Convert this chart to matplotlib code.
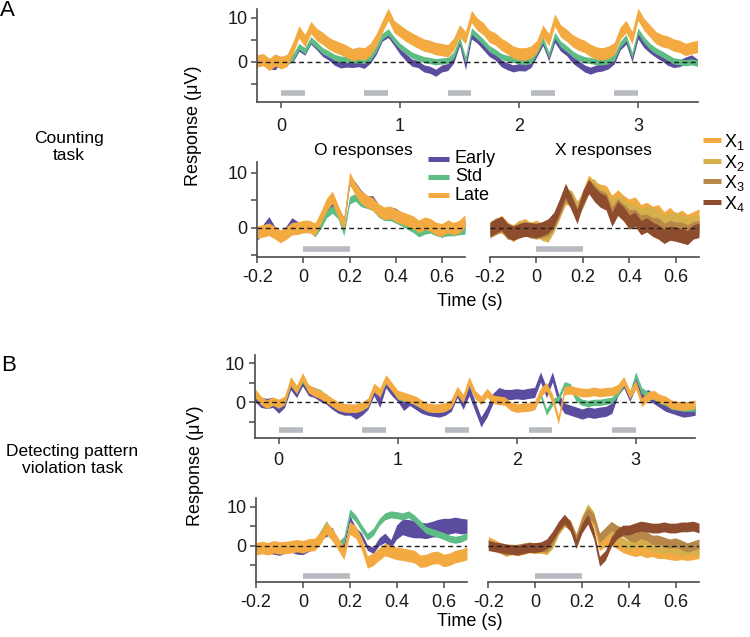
import numpy as np
import matplotlib
matplotlib.use('Agg')
import matplotlib.pyplot as plt
from matplotlib.lines import Line2D

plt.rcParams['font.family'] = ['Liberation Sans', 'DejaVu Sans']
plt.rcParams['mathtext.default'] = 'regular'
plt.rcParams['axes.unicode_minus'] = False

# ---------------- data ----------------
t_long = np.round(np.arange(-0.2, 3.5001, 0.05), 3)     # 75 samples
t_short = np.round(np.arange(-0.2, 0.7001, 0.025), 3)   # 37 samples

stim_onsets = [0.0, 0.7, 1.4, 2.1, 2.8]
stim_dur = 0.2

cond_labels = ['Early', 'Std', 'Late']
x_labels = ['X$_1$', 'X$_2$', 'X$_3$', 'X$_4$']
cond_colors = ['#5b4c9f', '#5dbd85', '#f3aa40']
x_colors = ['#f3aa40', '#d6b04a', '#b8874a', '#8e4c2e']

long_ticks = [0, 1, 2, 3]
short_ticks = [-0.2, 0, 0.2, 0.4, 0.6]
short_ticklabels = ['-0.2', '0', '0.2', '0.4', '0.6']

# A: counting task, whole sequence
a_early = [0.0, 0.4, -0.8, -1.0, 0.5, 0.2, 0.8, 3.2, 2.3, 4.8,
           3.5, 2.0, 1.2, 0.0, -0.6, -0.4, -0.5, -0.3, -0.7, 0.5,
           2.5, 5.5, 6.3, 4.5, 2.5, 1.0, -0.2, -0.5, -1.5, -1.8,
           -2.5, -1.5, -1.2, 0.5, 4.5, -1.0, 6.0, 5.0, 3.5, 2.0,
           1.2, -0.3, -1.0, -1.5, -1.2, -1.3, -0.5, 2.0, 4.5, 1.0,
           5.2, 3.2, 2.2, 0.5, -0.5, -1.5, -2.0, -1.5, -1.3, -0.8,
           0.3, 3.5, 4.8, 0.8, 6.0, 4.0, 2.8, 1.8, 1.0, 0.0,
           -0.5, -0.3, 0.3, 0.8, -0.2]
a_std = [0.2, 0.3, -0.5, 0.3, 0.2, 0.0, 1.0, 3.5, 2.5, 5.0,
         3.8, 2.5, 1.8, 1.0, 0.6, 0.5, 0.5, 0.4, 0.3, 1.0,
         3.0, 5.8, 6.8, 5.0, 3.5, 2.5, 1.5, 1.0, 0.5, 0.3,
         0.0, 0.2, 0.3, 1.5, 5.0, 0.5, 7.0, 5.8, 4.5, 3.0,
         2.2, 1.2, 0.8, 0.5, 0.3, 0.0, 0.3, 2.5, 5.0, 1.5,
         6.0, 4.0, 3.0, 1.8, 1.0, 0.5, 0.3, 0.0, 0.0, 0.2,
         1.0, 4.0, 5.5, 1.5, 7.0, 5.0, 3.5, 2.5, 1.8, 1.0,
         0.2, 0.0, -0.2, 0.0, -0.3]
a_late = [0.2, 0.5, -0.6, 0.4, -0.2, 0.3, 3.2, 6.8, 4.8, 7.8,
          6.2, 5.3, 4.2, 3.5, 3.0, 2.4, 1.6, 2.0, 1.8, 2.8,
          5.0, 8.0, 10.8, 8.0, 7.0, 6.0, 5.2, 4.5, 3.8, 3.5,
          3.0, 2.8, 2.5, 4.0, 7.0, 5.5, 10.3, 8.5, 7.5, 5.8,
          5.2, 4.0, 3.2, 2.2, 1.8, 1.8, 2.2, 3.5, 7.0, 5.0,
          9.5, 7.0, 6.0, 4.8, 4.0, 3.5, 2.6, 2.0, 1.8, 2.2,
          3.0, 6.5, 8.0, 5.5, 10.8, 8.5, 7.0, 5.5, 4.8, 4.5,
          3.8, 3.5, 2.8, 3.2, 3.5]
a_sem = [0.8, 0.7, 1.4]

# A: O responses
ao_early = [-1.5, -0.2, 1.2, -0.5, -1.5, -0.5, 1.0, 0.3, 0.2, 0.2,
            -0.2, 1.5, 3.5, 4.5, 3.0, 1.0, 8.5, 7.5, 6.0, 5.0,
            5.0, 3.5, 2.8, 3.0, 2.7, 2.0, 1.2, 0.5, 0.0, 0.5,
            0.3, -0.3, -1.0, 0.6, 0.0, 0.0, 0.5]
ao_std = [-1.0, -0.8, -0.4, -1.0, -1.5, -1.0, -0.3, -0.3, 0.0, 0.0,
          -1.0, 0.5, 2.5, 3.3, 2.3, -0.8, 5.0, 5.5, 4.5, 4.2,
          3.8, 2.6, 2.0, 2.0, 1.5, 1.0, 0.4, -0.2, -1.0, -0.5,
          -0.3, -0.8, -1.0, -0.8, -0.8, -0.6, -0.5]
ao_late = [-0.8, -0.6, -0.3, -0.9, -1.6, -1.0, -0.2, -0.1, 0.2, 0.2,
           -0.3, 1.8, 4.2, 5.5, 3.0, 0.6, 9.0, 7.0, 5.5, 4.8,
           4.3, 3.2, 2.6, 2.8, 2.2, 1.8, 1.4, 1.0, 0.2, 0.8,
           0.5, -0.2, -0.4, 0.2, -0.2, 0.2, 1.2]
ao_sem = [0.8, 0.7, 1.15]

# A: X responses
ax_x1 = [-0.5, 0.2, 0.8, -0.3, -1.2, -0.3, 0.3, -0.5, 0.0, -0.8,
         -1.0, 1.0, 3.5, 6.0, 5.0, 3.0, 5.5, 8.2, 7.0, 6.5,
         6.3, 4.5, 5.5, 4.5, 3.8, 4.2, 2.8, 3.2, 2.5, 2.8,
         1.5, 2.3, 1.2, 1.8, 1.0, 1.5, 2.0]
ax_x2 = [-0.3, 0.5, 0.3, -0.5, -0.8, 0.0, 0.0, -0.3, -0.3, -1.0,
         -1.3, 0.5, 3.0, 5.5, 5.5, 3.5, 5.0, 7.5, 7.5, 6.0,
         5.5, 4.0, 4.5, 4.0, 3.0, 3.0, 2.0, 2.5, 2.5, 1.8,
         0.8, 1.5, 1.5, 1.0, 0.5, 0.8, 0.8]
ax_x3 = [-0.5, 0.0, 0.5, -0.8, -1.0, -0.5, -0.2, -0.6, -0.8, -0.5,
         -0.3, 1.0, 3.5, 6.0, 5.0, 2.5, 5.0, 7.5, 6.5, 5.5,
         5.0, 2.5, 4.0, 3.0, 2.0, 2.0, 1.0, 1.2, 0.5, 0.5,
         -0.5, 0.0, -0.3, -0.3, -0.8, -0.2, 0.0]
ax_x4 = [-0.3, 0.3, 0.8, -0.5, -1.0, -0.6, -0.3, -0.4, -0.5, -0.2,
         0.3, 1.5, 4.0, 6.8, 4.5, 2.0, 5.5, 7.5, 6.0, 5.0,
         4.5, 1.5, 3.5, 2.5, 1.0, 1.5, 0.0, 0.5, -0.3, -0.8,
         -1.6, -1.0, -1.2, -1.5, -1.8, -0.8, -0.5]
ax_sem = [1.4, 1.35, 1.3, 1.3]

# B: detecting pattern violation task, whole sequence
b_early = [1.5, 0.0, -0.3, 0.0, -1.5, 0.0, 4.5, 2.5, 5.5, 3.0,
           2.5, 1.5, 0.8, -0.5, -1.5, -2.0, -2.0, -3.0, -2.0, -0.5,
           3.0, 0.0, 5.0, 3.0, 1.5, -0.8, 0.5, -0.5, -1.5, -2.0,
           -2.3, -2.5, -2.0, -1.0, 2.5, -0.5, 3.0, -1.0, -5.0, -2.5,
           1.0, 2.5, 2.0, 2.0, 2.2, 2.0, 2.3, 2.5, 6.5, 2.5,
           6.5, 1.0, -1.5, -2.0, -2.5, -3.0, -2.5, -2.8, -2.5, -2.3,
           -1.5, 3.0, 5.0, 1.5, 5.0, 1.0, 2.0, 1.0, 0.0, -1.0,
           -1.5, -2.0, -2.5, -2.3, -2.0]
b_std = [2.0, 0.5, -0.3, 0.2, -0.8, 0.3, 5.0, 3.0, 5.8, 3.5,
         3.0, 2.5, 1.2, 0.0, -1.0, -1.5, -1.5, -1.8, -1.2, -0.3,
         3.5, 2.3, 5.5, 3.8, 1.5, 1.0, 0.8, 0.0, -0.8, -1.5,
         -1.8, -1.8, -1.5, -0.5, 2.8, 0.8, 5.0, 1.8, 0.5, 2.2,
         0.8, 0.5, 0.3, -1.0, -1.5, -1.5, -1.3, -1.0, 2.0, -2.5,
         0.0, 1.0, 4.5, 4.0, 1.0, 0.0, -0.3, 0.0, 0.0, 0.3,
         0.5, 2.5, 5.0, 2.0, 7.0, 3.0, 2.0, 1.5, 0.5, 0.0,
         -1.0, -1.2, -1.5, -1.5, -1.5]
b_late = [2.5, 0.5, -0.5, 0.3, -0.3, 0.5, 5.5, 3.3, 6.5, 3.5,
          2.6, 2.0, 1.0, 0.0, -1.0, -1.4, -1.5, -1.5, -1.0, 0.0,
          3.8, 2.5, 6.0, 4.0, 2.0, 1.5, 1.0, 0.5, -0.5, -1.3,
          -1.5, -1.5, -1.2, -0.3, 3.0, 1.0, 5.5, 2.0, 0.5, 2.5,
          0.8, 0.5, 0.3, -1.0, -1.5, -1.3, -1.2, -0.8, 2.5, 4.0,
          1.0, -4.5, 3.0, 3.2, 2.8, 2.5, 2.5, 2.8, 2.5, 2.7,
          2.8, 3.5, 5.5, 2.0, 4.5, 0.0, 1.5, 2.0, 1.0, 0.5,
          -0.5, -0.8, -1.0, -0.8, -0.5]
b_sem = [1.3, 0.8, 1.1]

# B: O responses
bo_early = [-0.5, -1.0, -1.3, -1.5, -1.8, -1.2, -1.0, -1.5, -1.6, -0.8,
            -0.2, 2.5, 3.0, 4.0, 0.5, 0.0, 7.0, 4.0, 2.5, -0.5,
            -1.2, 1.0, 2.0, 0.5, 3.5, 4.8, 4.5, 4.2, 4.0, 3.8,
            4.2, 4.5, 4.8, 5.0, 5.3, 5.0, 5.0]
bo_early_sem = [0.7, 0.7, 0.7, 0.7, 0.7, 0.7, 0.7, 0.7, 0.7, 0.7,
                0.7, 0.7, 0.7, 0.7, 0.7, 0.7, 0.7, 0.7, 0.7, 0.7,
                0.8, 1.0, 1.2, 1.0, 1.8, 2.0, 2.2, 2.2, 2.0, 2.0,
                2.0, 2.2, 2.2, 2.0, 2.0, 2.0, 1.8]
bo_std = [-0.5, -0.5, -0.8, -0.5, -0.8, -0.5, -0.5, -0.3, -0.3, 0.0,
          0.3, 3.0, 5.5, 3.0, 0.0, 1.5, 8.5, 7.0, 4.5, 2.3,
          3.5, 6.0, 7.5, 8.0, 7.8, 7.5, 8.0, 7.0, 5.5, 4.0,
          3.5, 3.0, 2.5, 1.8, 1.5, 1.8, 2.5]
bo_late = [-0.8, -0.5, -0.8, -0.3, -0.6, -0.5, -0.3, 0.0, -0.3, 0.2,
           0.3, 2.0, 4.5, 2.8, 0.5, -2.0, 4.5, 3.5, 0.5, -4.2,
           -3.5, -2.2, -1.0, -1.5, -2.0, -2.2, -2.5, -2.8, -4.0, -3.8,
           -3.2, -3.0, -3.8, -3.5, -2.8, -2.5, -2.0]
bo_sem = [bo_early_sem, 0.9, 1.6]

# B: X responses
bx_x1 = [1.0, 0.3, -0.5, -1.5, -1.0, -1.3, -1.0, -0.5, -0.8, -0.5,
         -1.0, 1.0, 4.5, 6.5, 5.0, 1.0, 5.5, 8.5, 6.0, 0.0,
         1.0, 1.5, 0.5, -0.5, -1.0, -1.5, -1.2, -1.8, -1.5, -2.0,
         -2.0, -2.3, -2.5, -2.3, -2.5, -2.3, -2.0]
bx_x2 = [0.5, 0.0, -0.5, -1.0, -0.8, -1.0, -0.5, -0.3, -0.5, -0.8,
         -1.0, 0.5, 4.0, 6.0, 5.5, 2.0, 6.5, 9.5, 7.5, 2.0,
         3.0, 3.5, 2.0, 0.8, 0.0, 0.5, 1.0, 0.5, -0.2, -0.5,
         -1.0, -0.5, -1.0, -1.5, -1.0, -1.3, -1.0]
bx_x3 = [0.3, -0.2, -0.8, -1.2, -1.0, -0.8, -0.6, -0.3, -0.5, -0.3,
         -0.5, 1.5, 4.5, 6.5, 5.0, 1.5, 6.0, 8.5, 7.0, 2.0,
         3.5, 5.0, 4.0, 3.5, 2.5, 2.0, 3.0, 2.5, 1.5, 1.5,
         1.0, 0.5, 0.8, 0.2, -0.5, 0.0, 0.5]
bx_x4 = [0.0, -0.3, -0.5, -0.8, -1.0, -1.2, -0.8, -0.5, -0.5, -0.3,
         0.5, 2.5, 5.0, 6.8, 5.0, 0.5, 4.5, 6.8, 3.0, -4.0,
         -2.5, 1.0, 3.0, 4.0, 4.0, 4.5, 5.0, 4.8, 4.5, 4.5,
         4.8, 4.5, 4.5, 4.8, 4.8, 5.0, 4.5]
bx_sem = [1.3, 1.2, 1.2, 1.25]

# ---------------- drawing ----------------
W, H = 750, 637
SPINE = '#4a4a4a'
BAR = '#b7babf'


def px(x0, y_top, x1, y_bot):
    """axes rect from pixel box"""
    return [x0 / W, 1 - y_bot / H, (x1 - x0) / W, (y_bot - y_top) / H]


def draw_panel(ax, t, means, sems, colors, ylim, xlim, bar_y, onsets,
               yaxis=True, xpad=4.5):
    for m, s, c in zip(means, sems, colors):
        m = np.asarray(m, dtype=float)
        s = np.asarray(s, dtype=float)
        ax.fill_between(t, m - s, m + s, color=c, lw=0, zorder=2)
    ax.axhline(0, color='#1e1e1e', lw=1.0, ls=(0, (3.5, 2.5)), zorder=5)
    for on in onsets:
        ax.plot([on, on + stim_dur], [bar_y, bar_y], color=BAR, lw=4,
                solid_capstyle='butt', zorder=1)
    ax.set_xlim(xlim)
    ax.set_ylim(ylim)
    for s in ['top', 'right']:
        ax.spines[s].set_visible(False)
    for s in ['left', 'bottom']:
        ax.spines[s].set_color(SPINE)
        ax.spines[s].set_linewidth(1.2)
    ax.set_yticks([0, 10])
    ax.set_yticks([-5, 5], minor=True)
    ax.tick_params(which='both', direction='out', length=4, width=1.1,
                   colors=SPINE, labelcolor='#1a1a1a', labelsize=13)
    ax.tick_params(axis='x', pad=xpad)
    ax.tick_params(axis='y', pad=3)
    if not yaxis:
        ax.spines['left'].set_visible(False)
        ax.tick_params(axis='y', which='both', left=False, labelleft=False)
    ax.patch.set_alpha(0)


fig = plt.figure(figsize=(7.5, 6.37), dpi=100)

# panel A
axA = fig.add_axes(px(257.3, 9, 697.5, 102.3))
draw_panel(axA, t_long, [a_early, a_std, a_late], a_sem, cond_colors,
           (-9.2, 12.0), (-0.2, 3.5), -7.0, stim_onsets, xpad=7)
axA.set_xticks(long_ticks)
axA.set_xticklabels([str(v) for v in long_ticks])

axAO = fig.add_axes(px(257.3, 161.7, 465, 256.7))
draw_panel(axAO, t_short, [ao_early, ao_std, ao_late], ao_sem, cond_colors,
           (-5.3, 12.0), (-0.2, 0.7), -3.9, stim_onsets[:1])
axAX = fig.add_axes(px(490, 161.7, 699, 256.7))
draw_panel(axAX, t_short, [ax_x1, ax_x2, ax_x3, ax_x4], ax_sem, x_colors,
           (-5.3, 12.0), (-0.2, 0.7), -3.9, stim_onsets[:1], yaxis=False)

# panel B
axB = fig.add_axes(px(254.9, 355, 695.2, 438.3))
draw_panel(axB, t_long, [b_early, b_std, b_late], b_sem, cond_colors,
           (-9.2, 12.1), (-0.2, 3.5), -7.1, stim_onsets, xpad=6)
axB.set_xticks(long_ticks)
axB.set_xticklabels([str(v) for v in long_ticks])

axBO = fig.add_axes(px(256, 498, 467, 582.3))
draw_panel(axBO, t_short, [bo_early, bo_std, bo_late], bo_sem, cond_colors,
           (-9.4, 12.2), (-0.2, 0.7), -7.7, stim_onsets[:1])
axBX = fig.add_axes(px(488.3, 498, 699, 582.3))
draw_panel(axBX, t_short, [bx_x1, bx_x2, bx_x3, bx_x4], bx_sem, x_colors,
           (-9.4, 12.2), (-0.2, 0.7), -7.7, stim_onsets[:1], yaxis=False)

for a in [axAO, axAX, axBO, axBX]:
    a.set_xticks(short_ticks)
    a.set_xticklabels(short_ticklabels)


def ftext(x, y, s, **kw):
    fig.text(x / W, 1 - y / H, s, **kw)


ftext(7.5, 10, 'A', fontsize=16, ha='center', va='center')
ftext(9, 365.5, 'B', fontsize=16, ha='center', va='center')
ftext(69, 147, 'Counting\ntask', fontsize=12.5, ha='center', va='center',
      linespacing=1.15)
ftext(72, 460, 'Detecting pattern\nviolation task', fontsize=12.5,
      ha='center', va='center', linespacing=1.15)
ftext(193, 126, 'Response (\u03bcV)', fontsize=13, rotation=90,
      ha='center', va='center')
ftext(195, 466, 'Response (\u03bcV)', fontsize=13, rotation=90,
      ha='center', va='center')
ftext(363.6, 150, 'O responses', fontsize=12.5, ha='center', va='center')
ftext(603.6, 150, 'X responses', fontsize=12.5, ha='center', va='center')
ftext(470, 302, 'Time (s)', fontsize=13, ha='center', va='center')
ftext(470, 622, 'Time (s)', fontsize=13, ha='center', va='center')

# legends drawn by hand
for i, (lab, c) in enumerate(zip(cond_labels, cond_colors)):
    y = 158.5 + i * 18.3
    fig.add_artist(Line2D([428 / W, 449 / W], [1 - y / H] * 2, color=c, lw=3.6,
                          solid_capstyle='butt', transform=fig.transFigure))
    ftext(455, y, lab, fontsize=13, ha='left', va='center')

for i, (lab, c) in enumerate(zip(x_labels, x_colors)):
    y = 140 + i * 20.7
    fig.add_artist(Line2D([703 / W, 721 / W], [1 - y / H] * 2, color=c, lw=3.6,
                          solid_capstyle='butt', transform=fig.transFigure))
    ftext(724, y + 2, lab, fontsize=13, ha='left', va='center')

fig.savefig('out.png', dpi=100)
